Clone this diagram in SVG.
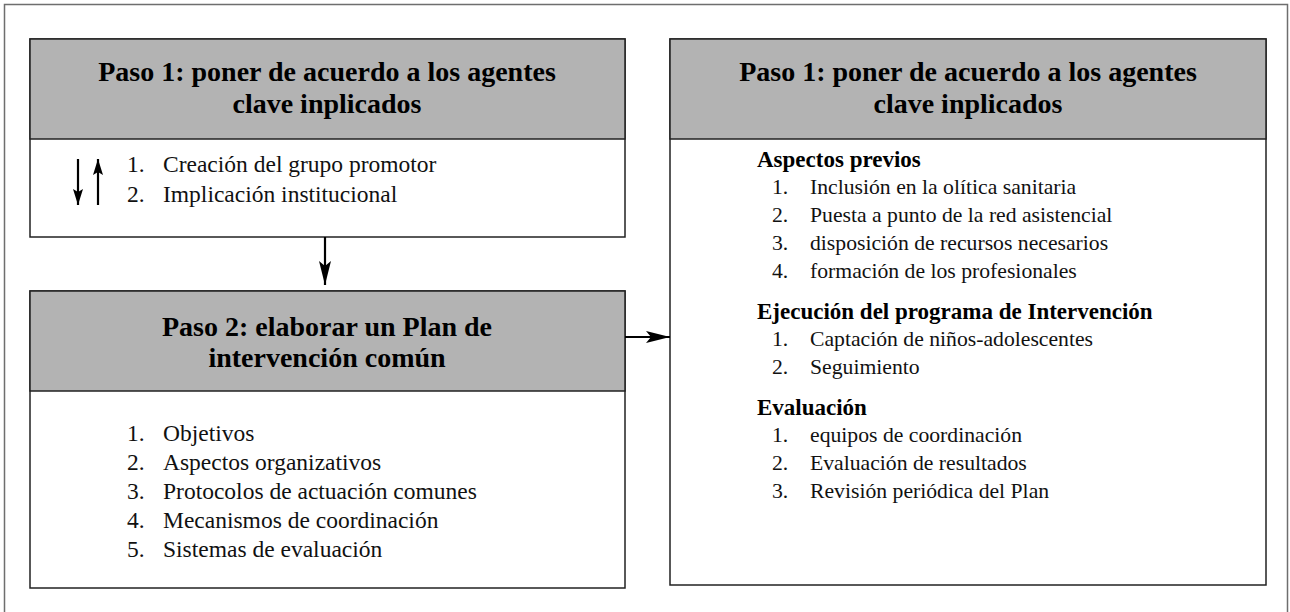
<svg xmlns="http://www.w3.org/2000/svg" width="1290" height="612" viewBox="0 0 1290 612">
<style>
.frame{fill:none;stroke:#6e6e6e;stroke-width:1.5}
.box{fill:#fff;stroke:#222;stroke-width:1.5}
.hdr{fill:#b3b3b3;stroke:#222;stroke-width:1.5}
.ht{font-family:"Liberation Serif","DejaVu Serif",serif;font-weight:bold;font-size:28px;fill:#000;text-anchor:middle}
.bt{font-family:"Liberation Serif","DejaVu Serif",serif;font-size:23.5px;fill:#111}
.rt{font-family:"Liberation Serif","DejaVu Serif",serif;font-size:21.7px;fill:#111}
.bh{font-family:"Liberation Serif","DejaVu Serif",serif;font-weight:bold;font-size:23px;fill:#000}
.con{stroke:#000;stroke-width:2.2;fill:none}
</style>
<defs>
<marker id="ah" viewBox="0 0 24 12" refX="24" refY="6" markerWidth="24" markerHeight="12" markerUnits="userSpaceOnUse" orient="auto">
<path d="M0,0 L24,6 L0,12 L5,6 z" fill="#000"/>
</marker>
<marker id="ahs" viewBox="0 0 16 10" refX="16" refY="5" markerWidth="16" markerHeight="10" markerUnits="userSpaceOnUse" orient="auto">
<path d="M0,0 L16,5 L0,10 L3,5 z" fill="#000"/>
</marker>
</defs>
<rect class="frame" x="4.5" y="4.5" width="1283" height="640"/>

<g id="paso1">
<rect class="box" x="30" y="39" width="595" height="198"/>
<rect class="hdr" x="30" y="39" width="595" height="100"/>
<text class="ht" x="327" y="81">Paso 1: poner de acuerdo a los agentes</text>
<text class="ht" x="327" y="113">clave inplicados</text>
<text class="bt" x="127" y="172">1.</text>
<text class="bt" x="163" y="172">Creación del grupo promotor</text>
<text class="bt" x="127" y="202">2.</text>
<text class="bt" x="163" y="202">Implicación institucional</text>
<line class="con" x1="78" y1="159" x2="78" y2="205" marker-end="url(#ahs)"/>
<line class="con" x1="98" y1="205" x2="98" y2="159" marker-end="url(#ahs)"/>
</g>

<g id="paso2">
<rect class="box" x="30" y="291" width="595" height="297"/>
<rect class="hdr" x="30" y="291" width="595" height="100"/>
<text class="ht" x="327" y="336">Paso 2: elaborar un Plan de</text>
<text class="ht" x="327" y="367">intervención común</text>
<text class="bt" x="127" y="441">1.</text>
<text class="bt" x="163" y="441">Objetivos</text>
<text class="bt" x="127" y="470">2.</text>
<text class="bt" x="163" y="470">Aspectos organizativos</text>
<text class="bt" x="127" y="499">3.</text>
<text class="bt" x="163" y="499">Protocolos de actuación comunes</text>
<text class="bt" x="127" y="528">4.</text>
<text class="bt" x="163" y="528">Mecanismos de coordinación</text>
<text class="bt" x="127" y="557">5.</text>
<text class="bt" x="163" y="557">Sistemas de evaluación</text>
</g>

<g id="paso1b">
<rect class="box" x="670" y="39" width="596" height="546"/>
<rect class="hdr" x="670" y="39" width="596" height="100"/>
<text class="ht" x="968" y="81">Paso 1: poner de acuerdo a los agentes</text>
<text class="ht" x="968" y="113">clave inplicados</text>
<text class="bh" x="757" y="167">Aspectos previos</text>
<text class="rt" x="772" y="194">1.</text>
<text class="rt" x="810" y="194">Inclusión en la olítica sanitaria</text>
<text class="rt" x="772" y="222">2.</text>
<text class="rt" x="810" y="222">Puesta a punto de la red asistencial</text>
<text class="rt" x="772" y="250">3.</text>
<text class="rt" x="810" y="250">disposición de recursos necesarios</text>
<text class="rt" x="772" y="278">4.</text>
<text class="rt" x="810" y="278">formación de los profesionales</text>
<text class="bh" x="757" y="319">Ejecución del programa de Intervención</text>
<text class="rt" x="772" y="346">1.</text>
<text class="rt" x="810" y="346">Captación de niños-adolescentes</text>
<text class="rt" x="772" y="374">2.</text>
<text class="rt" x="810" y="374">Seguimiento</text>
<text class="bh" x="757" y="415">Evaluación</text>
<text class="rt" x="772" y="442">1.</text>
<text class="rt" x="810" y="442">equipos de coordinación</text>
<text class="rt" x="772" y="470">2.</text>
<text class="rt" x="810" y="470">Evaluación de resultados</text>
<text class="rt" x="772" y="498">3.</text>
<text class="rt" x="810" y="498">Revisión periódica del Plan</text>
</g>

<g id="connectors">
<line class="con" x1="325" y1="237" x2="325" y2="285" marker-end="url(#ah)"/>
<line class="con" x1="625" y1="337" x2="670" y2="337" marker-end="url(#ah)"/>
</g>
</svg>
